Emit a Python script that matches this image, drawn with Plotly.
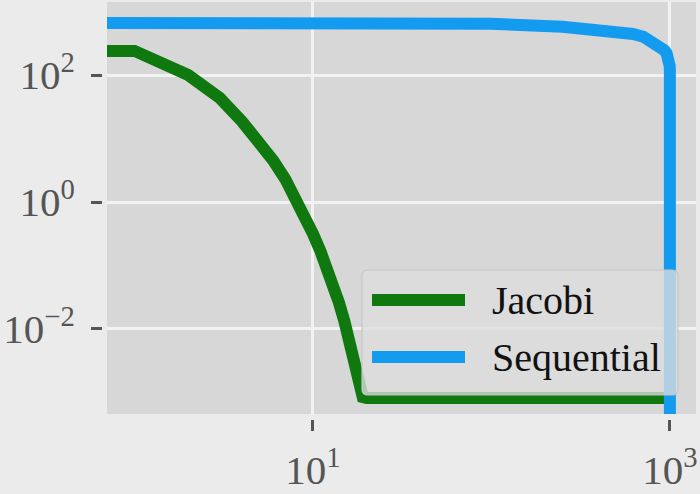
import plotly.graph_objects as go

# ---------------- data ----------------
jacobi_iter = [0, 1, 2, 3, 4, 5, 6, 7, 8, 9, 10, 11, 12, 13, 14, 15, 16, 17, 18, 19, 20, 100, 1000]
jacobi_res = [240, 240, 100, 43.7, 18.6, 8.9, 4.47, 2.29, 1.175, 0.603, 0.316, 0.17, 0.0912, 0.049,
              0.0257, 0.0132, 0.0066, 0.00316, 0.00151, 0.00085, 0.00082, 0.00082, 0.00082]

seq_iter = [0, 1, 10, 100, 250, 400, 620, 710, 805, 877, 930, 958, 980, 990, 996, 999, 1000]
seq_res = [686, 684, 675, 640, 575, 525, 443, 401, 335, 279, 245, 219, 190, 165, 140, 120, 0]

x_tickvals = [10, 1000]
x_ticktext = ["10<sup>1</sup>", "10<sup>3</sup>"]
y_tickvals = [1e-2, 1, 1e2]
y_ticktext = ["10<sup>\u22122</sup>", "10<sup>0</sup>", "10<sup>2</sup>"]

series_names = ["Jacobi", "Sequential"]
series_colors = ["#0f780f", "#129bef"]


# matplotlib-like clipping of non-positive values on log axes
def clip_x(v):
    return [x if x > 0 else 1e-3 for x in v]


def clip_y(v):
    return [y if y > 0 else 1e-12 for y in v]


W, H = 700, 494
ML, MR, MT, MB = 102, 4, 2, 75
PW, PH = W - ML - MR, H - MT - MB


def px(xp):
    return (xp - ML) / PW


def py(yp):
    return (H - MB - yp) / PH


fig = go.Figure()
fig.add_trace(go.Scatter(x=clip_x(jacobi_iter), y=clip_y(jacobi_res), mode="lines",
                         line=dict(color=series_colors[0], width=12), name=series_names[0],
                         showlegend=False))
fig.add_trace(go.Scatter(x=clip_x(seq_iter), y=clip_y(seq_res), mode="lines",
                         line=dict(color=series_colors[1], width=12), name=series_names[1],
                         showlegend=False))

tickfont = dict(family="Liberation Serif", size=41, color="#555555")
fig.update_layout(
    width=W, height=H,
    margin=dict(l=ML, r=MR, t=MT, b=MB, autoexpand=False),
    paper_bgcolor="#ebebeb", plot_bgcolor="#d7d7d7",
    xaxis=dict(type="log", range=[-0.154, 3.146], domain=[5 / PW, 1], anchor="free", position=0,
               tickmode="array", tickvals=x_tickvals, ticktext=x_ticktext,
               ticks="outside", ticklen=11, tickwidth=2.5, tickcolor="#555555",
               ticklabelstandoff=4,
               showgrid=True, gridcolor="#f2f2f2", gridwidth=2.5, zeroline=False, showline=False,
               tickfont=tickfont),
    yaxis=dict(type="log", range=[-3.339, 3.15], domain=[5 / PH, 1], anchor="free", position=0,
               tickmode="array", tickvals=y_tickvals, ticktext=y_ticktext,
               ticks="outside", ticklen=11, tickwidth=2.5, tickcolor="#555555",
               ticklabelstandoff=8,
               showgrid=True, gridcolor="#f2f2f2", gridwidth=2.5, zeroline=False, showline=False,
               tickfont=tickfont),
    showlegend=False,
)

# ---------- custom legend (box, samples, labels) ----------
x0, x1, y0, y1, r = 362, 678, 270, 395, 6
rx, ry = r / PW, r / PH
X0, X1, Y0, Y1 = px(x0), px(x1), py(y0), py(y1)
path = (f"M{X0+rx},{Y0} L{X1-rx},{Y0} Q{X1},{Y0} {X1},{Y0-ry} L{X1},{Y1+ry} Q{X1},{Y1} {X1-rx},{Y1} "
        f"L{X0+rx},{Y1} Q{X0},{Y1} {X0},{Y1+ry} L{X0},{Y0-ry} Q{X0},{Y0} {X0+rx},{Y0} Z")
fig.add_shape(type="path", path=path, xref="paper", yref="paper", layer="above",
              fillcolor="rgba(222,222,222,0.78)", line=dict(color="#c6c6c6", width=1.2))

legend_rows = [300, 357]
for name, color, yrow in zip(series_names, series_colors, legend_rows):
    fig.add_shape(type="line", xref="paper", yref="paper", layer="above",
                  x0=px(372), x1=px(465), y0=py(yrow), y1=py(yrow),
                  line=dict(color=color, width=12))
    fig.add_annotation(x=px(490), y=py(yrow), xref="paper", yref="paper", text=name,
                       showarrow=False, xanchor="left", yanchor="middle",
                       font=dict(family="Liberation Serif", size=40, color="#111111"))

fig.write_html("out.html")
